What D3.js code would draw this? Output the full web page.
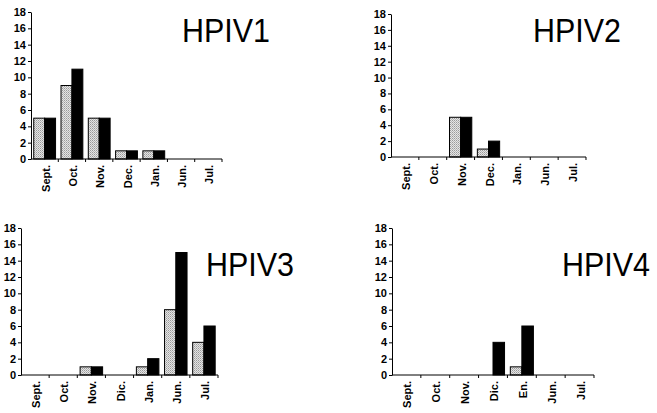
<!DOCTYPE html>
<html>
<head>
<meta charset="utf-8">
<script src="https://cdn.jsdelivr.net/npm/d3@7"></script>
<style>
  body { margin: 0; background: #fff; }
  #wrap { position: relative; width: 657px; height: 413px; }
  svg { display: block; position: absolute; left: 0; top: 0; }
  .axis text { font-family: "Liberation Sans", Arial, sans-serif; font-weight: bold; font-size: 11px; fill: #000; }
  .axis path, .axis line { stroke: #000; stroke-width: 1; }
  .title { font-family: "Liberation Sans", Arial, sans-serif; font-size: 33px; fill: #000; }
  .xlbl {
    position: absolute; white-space: nowrap; line-height: 11px;
    font-family: "Liberation Sans", Arial, sans-serif; font-weight: bold; font-size: 11px; color: #000;
    transform-origin: 0 0; transform: rotate(-90deg) translate(-100%, -50%);
  }
</style>
</head>
<body>
<div id="wrap"><svg width="657" height="413"></svg></div>
<script>
const months1 = ["Sept.", "Oct.", "Nov.", "Dec.", "Jan.", "Jun.", "Jul."];
const months3 = ["Sept.", "Oct.", "Nov.", "Dic.", "Jan.", "Jun.", "Jul."];
const months4 = ["Sept.", "Oct.", "Nov.", "Dic.", "En.", "Jun.", "Jul."];
const yTicks = [0, 2, 4, 6, 8, 10, 12, 14, 16, 18];

const hpiv1Gray = [5, 9, 5, 1, 1, 0, 0];
const hpiv1Black = [5, 11, 5, 1, 1, 0, 0];
const hpiv2Gray = [0, 0, 5, 1, 0, 0, 0];
const hpiv2Black = [0, 0, 5, 2, 0, 0, 0];
const hpiv3Gray = [0, 0, 1, 0, 1, 8, 4];
const hpiv3Black = [0, 0, 1, 0, 2, 15, 6];
const hpiv4Gray = [0, 0, 0, 0, 1, 0, 0];
const hpiv4Black = [0, 0, 0, 4, 6, 0, 0];

const wrap = d3.select("#wrap");
const svg = d3.select("svg");

// stippled light fill
const pat = svg.append("defs").append("pattern")
  .attr("id", "dots")
  .attr("width", 2).attr("height", 2)
  .attr("patternUnits", "userSpaceOnUse");
pat.append("rect").attr("width", 2).attr("height", 2).attr("fill", "#e4e4e4");
pat.append("rect").attr("width", 1).attr("height", 1).attr("fill", "#9a9a9a");
pat.append("rect").attr("x", 1).attr("y", 1).attr("width", 1).attr("height", 1).attr("fill", "#b8b8b8");

const panels = [
  { title: "HPIV1", cats: months1, gray: hpiv1Gray, black: hpiv1Black, x0: 31, x1: 222, yTop: 12, yBot: 159, tx: 182, ty: 42 },
  { title: "HPIV2", cats: months1, gray: hpiv2Gray, black: hpiv2Black, x0: 391, x1: 586, yTop: 14, yBot: 157, tx: 533, ty: 42 },
  { title: "HPIV3", cats: months3, gray: hpiv3Gray, black: hpiv3Black, x0: 21, x1: 218, yTop: 228, yBot: 375, tx: 206, ty: 276 },
  { title: "HPIV4", cats: months4, gray: hpiv4Gray, black: hpiv4Black, x0: 392, x1: 594, yTop: 228, yBot: 375, tx: 562, ty: 276 }
];

panels.forEach(p => {
  const g = svg.append("g");

  const x = d3.scaleBand()
    .domain(p.cats)
    .range([p.x0, p.x1])
    .paddingInner(0.2)
    .paddingOuter(0.1);

  const y = d3.scaleLinear()
    .domain([0, 18])
    .range([p.yBot, p.yTop]);

  const half = x.bandwidth() / 2;

  const rows = p.cats.map((c, i) => ({ cat: c, gray: p.gray[i], black: p.black[i] }));

  g.selectAll(".g-bar")
    .data(rows.filter(d => d.gray > 0))
    .enter()
    .append("rect")
    .attr("x", d => x(d.cat))
    .attr("y", d => y(d.gray))
    .attr("width", half)
    .attr("height", d => y(0) - y(d.gray))
    .attr("fill", "url(#dots)")
    .attr("stroke", "#000")
    .attr("stroke-width", 1);

  g.selectAll(".b-bar")
    .data(rows.filter(d => d.black > 0))
    .enter()
    .append("rect")
    .attr("x", d => x(d.cat) + half)
    .attr("y", d => y(d.black))
    .attr("width", half)
    .attr("height", d => y(0) - y(d.black))
    .attr("fill", "#000")
    .attr("stroke", "#000")
    .attr("stroke-width", 1);

  // y axis
  g.append("g")
    .attr("class", "axis")
    .attr("transform", `translate(${p.x0},0)`)
    .call(d3.axisLeft(y).tickValues(yTicks).tickSize(3).tickSizeOuter(0).tickPadding(2));

  // x axis line and boundary marks
  const xa = g.append("g")
    .attr("class", "axis")
    .attr("transform", `translate(0,${p.yBot})`)
    .call(d3.axisBottom(x).tickSize(0).tickSizeOuter(0).tickFormat(""));

  xa.select(".domain").attr("d", `M${p.x0},0H${p.x1}`);

  xa.selectAll(".tick")
    .append("line")
    .attr("x1", x.step() / 2).attr("x2", x.step() / 2)
    .attr("y1", 0).attr("y2", 3);

  // rotated month labels
  wrap.selectAll(null)
    .data(p.cats)
    .enter()
    .append("div")
    .attr("class", "xlbl")
    .style("left", d => (x(d) + half + 1) + "px")
    .style("top", (p.yBot + 6) + "px")
    .text(d => d);

  g.append("text")
    .attr("class", "title")
    .attr("x", p.tx)
    .attr("y", p.ty)
    .attr("textLength", 88)
    .attr("lengthAdjust", "spacingAndGlyphs")
    .text(p.title);
});
</script>
</body>
</html>
